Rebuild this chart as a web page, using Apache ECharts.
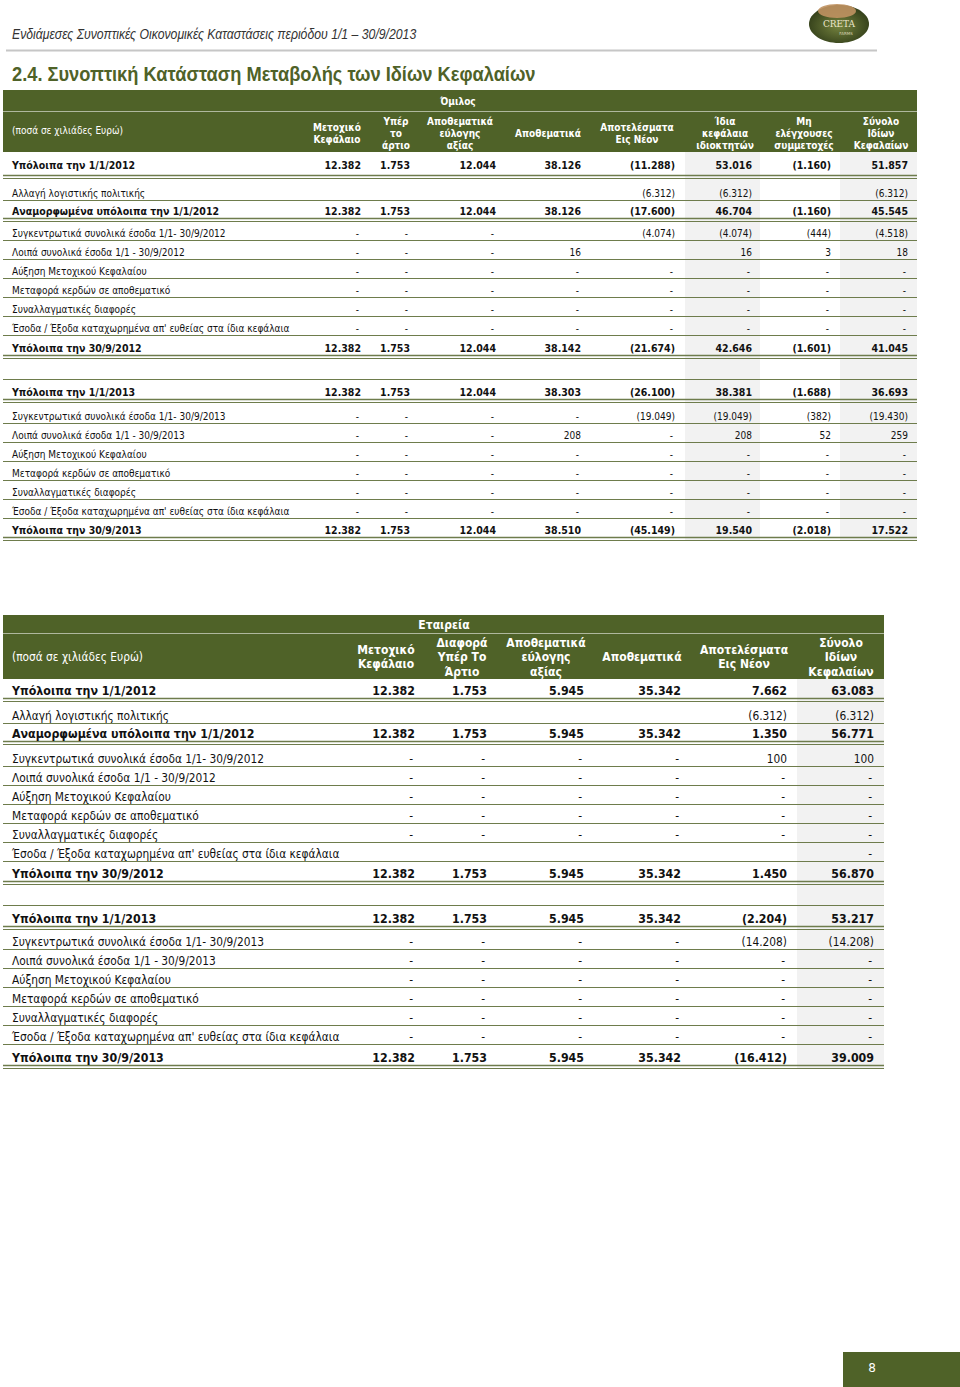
<!DOCTYPE html>
<html>
<head>
<meta charset="utf-8">
<script src="https://cdn.jsdelivr.net/npm/echarts@6/dist/echarts.min.js"></script>
<style>
  html, body { margin: 0; padding: 0; background: #fff; }
  #page { width: 960px; height: 1387px; }
</style>
</head>
<body>
<div id="page"></div>
<script>
// ---- data ----
const pageHeader = 'Ενδιάμεσες Συνοπτικές Οικονομικές Καταστάσεις περιόδου 1/1 – 30/9/2013'
const sectionTitle = '2.4. Συνοπτική Κατάσταση Μεταβολής των Ιδίων Κεφαλαίων'
const pageNumber = '8'
const unitLabel = '(ποσά σε χιλιάδες Ευρώ)'

const rowLabels = [
  'Υπόλοιπα την 1/1/2012',
  'Αλλαγή λογιστικής πολιτικής',
  'Αναμορφωμένα υπόλοιπα την 1/1/2012',
  'Συγκεντρωτικά συνολικά έσοδα 1/1- 30/9/2012',
  'Λοιπά συνολικά έσοδα 1/1 - 30/9/2012',
  'Αύξηση Μετοχικού Κεφαλαίου',
  'Μεταφορά κερδών σε αποθεματικό',
  'Συναλλαγματικές διαφορές',
  'Έσοδα / Έξοδα καταχωρημένα απ\' ευθείας στα ίδια κεφάλαια',
  'Υπόλοιπα την 30/9/2012',
  '',
  'Υπόλοιπα την 1/1/2013',
  'Συγκεντρωτικά συνολικά έσοδα 1/1- 30/9/2013',
  'Λοιπά συνολικά έσοδα 1/1 - 30/9/2013',
  'Αύξηση Μετοχικού Κεφαλαίου',
  'Μεταφορά κερδών σε αποθεματικό',
  'Συναλλαγματικές διαφορές',
  'Έσοδα / Έξοδα καταχωρημένα απ\' ευθείας στα ίδια κεφάλαια',
  'Υπόλοιπα την 30/9/2013'
]

// Όμιλος (group)
const groupTitle = 'Όμιλος'
const groupColumns = ['Μετοχικό\nΚεφάλαιο', 'Υπέρ\nτο\nάρτιο', 'Αποθεματικά\nεύλογης\nαξίας', 'Αποθεματικά',
  'Αποτελέσματα\nΕις Νέον', 'Ίδια\nκεφάλαια\nιδιοκτητών', 'Μη\nελέγχουσες\nσυμμετοχές', 'Σύνολο\nΙδίων\nΚεφαλαίων']
// null = empty cell, 0 = "-"
const groupValues = [
  [12382, 1753, 12044, 38126, -11288, 53016, -1160, 51857],
  [null, null, null, null, -6312, -6312, null, -6312],
  [12382, 1753, 12044, 38126, -17600, 46704, -1160, 45545],
  [0, 0, 0, null, -4074, -4074, -444, -4518],
  [0, 0, 0, 16, null, 16, 3, 18],
  [0, 0, 0, 0, 0, 0, 0, 0],
  [0, 0, 0, 0, 0, 0, 0, 0],
  [0, 0, 0, 0, 0, 0, 0, 0],
  [0, 0, 0, 0, 0, 0, 0, 0],
  [12382, 1753, 12044, 38142, -21674, 42646, -1601, 41045],
  null,
  [12382, 1753, 12044, 38303, -26100, 38381, -1688, 36693],
  [0, 0, 0, 0, -19049, -19049, -382, -19430],
  [0, 0, 0, 208, 0, 208, 52, 259],
  [0, 0, 0, 0, 0, 0, 0, 0],
  [0, 0, 0, 0, 0, 0, 0, 0],
  [0, 0, 0, 0, 0, 0, 0, 0],
  [0, 0, 0, 0, 0, 0, 0, 0],
  [12382, 1753, 12044, 38510, -45149, 19540, -2018, 17522]
]

// Εταιρεία (company)
const companyTitle = 'Εταιρεία'
const companyColumns = ['Μετοχικό\nΚεφάλαιο', 'Διαφορά\nΥπέρ Το\nΆρτιο', 'Αποθεματικά\nεύλογης\nαξίας', 'Αποθεματικά',
  'Αποτελέσματα\nΕις Νέον', 'Σύνολο\nΙδίων\nΚεφαλαίων']
const companyValues = [
  [12382, 1753, 5945, 35342, 7662, 63083],
  [null, null, null, null, -6312, -6312],
  [12382, 1753, 5945, 35342, 1350, 56771],
  [0, 0, 0, 0, 100, 100],
  [0, 0, 0, 0, 0, 0],
  [0, 0, 0, 0, 0, 0],
  [0, 0, 0, 0, 0, 0],
  [0, 0, 0, 0, 0, 0],
  [null, null, null, null, null, 0],
  [12382, 1753, 5945, 35342, 1450, 56870],
  null,
  [12382, 1753, 5945, 35342, -2204, 53217],
  [0, 0, 0, 0, -14208, -14208],
  [0, 0, 0, 0, 0, 0],
  [0, 0, 0, 0, 0, 0],
  [0, 0, 0, 0, 0, 0],
  [0, 0, 0, 0, 0, 0],
  [0, 0, 0, 0, 0, 0],
  [12382, 1753, 5945, 35342, -16412, 39009]
]

// ---- layout / style ----
const GREEN = '#4f6228'
const RULE = '#6e7c4c'
const SHADE = '#f2f2f2'
const FONT = '"DejaVu Sans Condensed", "DejaVu Sans", sans-serif'
const SANS = '"Liberation Sans", Arial, sans-serif'
const BOLD_ROWS = [0, 2, 9, 11, 18]

const groupLayout = {
  top: 90, split: 111, headBottom: 152, left: 3, right: 917,
  titleX: 458, unitY: 130, headY: 133, headLH: 12, headSize: 10,
  centers: [337, 396, 460, 548, 637, 725, 804, 881],
  rights: [361, 410, 496, 581, 675, 752, 831, 908],
  shade: [[685, 760], [840, 917]],
  heights: [26, 22, 21, 19, 19, 19, 19, 19, 19, 23, 21, 23, 21, 19, 19, 19, 19, 19, 22],
  reg: 10, bold: 10.5
}
const companyLayout = {
  top: 615, split: 633, headBottom: 679, left: 3, right: 884,
  titleX: 444, unitY: 657, headY: 657, headLH: 14.5, headSize: 12,
  centers: [386, 462, 546, 642, 744, 841],
  rights: [415, 487, 584, 681, 787, 874],
  shade: [[797, 884]],
  heights: [22, 22, 21, 22, 19, 19, 19, 19, 19, 23, 21, 24, 20, 19, 19, 19, 19, 19, 24],
  reg: 11.8, bold: 12.3
}

function fmt(v) {
  if (v === null || v === undefined) return ''
  if (v === 0) return '-'
  const s = Math.abs(v).toString().replace(/\B(?=(\d{3})+(?!\d))/g, '.')
  return v < 0 ? '(' + s + ')' : s
}

function txt(text, x, y, font, fill, align, extra) {
  return {
    type: 'text', silent: true,
    style: Object.assign({ text: text, x: x, y: y, font: font, fill: fill, align: align || 'left', verticalAlign: 'middle' }, extra || {})
  }
}
// text squeezed horizontally (condensed look of the original fonts)
function narrowTxt(text, x, y, font, fill, sx) {
  return {
    type: 'text', silent: true, x: x, y: y, scaleX: sx,
    style: { text: text, x: 0, y: 0, font: font, fill: fill, align: 'left', verticalAlign: 'middle' }
  }
}
function line(x1, y, x2, stroke, w) {
  return { type: 'line', silent: true, shape: { x1: x1, y1: y, x2: x2, y2: y }, style: { stroke: stroke, lineWidth: w } }
}
function rect(x, y, w, h, fill) {
  return { type: 'rect', silent: true, shape: { x: x, y: y, width: w, height: h }, style: { fill: fill } }
}

function buildTable(L, title, columns, values) {
  const els = []
  const total = L.heights.reduce((a, b) => a + b, 0)
  // header band
  els.push(rect(L.left, L.top, L.right - L.left, L.headBottom - L.top, GREEN))
  els.push(line(L.left, L.split + 0.5, L.right, 'rgba(255,255,255,0.55)', 1))
  els.push(txt(title, L.titleX, (L.top + L.split) / 2 + 1, 'bold ' + L.headSize + 'px ' + FONT, '#fff', 'center'))
  els.push(txt(unitLabel, 12, L.unitY, L.reg + 'px ' + FONT, '#fff', 'left'))
  columns.forEach((c, i) => {
    els.push(txt(c, L.centers[i], L.headY, 'bold ' + L.headSize + 'px ' + FONT, '#fff', 'center', { lineHeight: L.headLH }))
  })
  // shaded columns
  L.shade.forEach(s => els.push(rect(s[0], L.headBottom, s[1] - s[0], total, SHADE)))
  // rows
  let y = L.headBottom
  rowLabels.forEach((label, r) => {
    const h = L.heights[r]
    y += h
    const bold = BOLD_ROWS.indexOf(r) >= 0
    if (bold) {
      els.push(line(L.left, y - 2.5, L.right, RULE, 1.5))
      els.push(line(L.left, y + 0.5, L.right, RULE, 1))
    } else {
      els.push(line(L.left, y + 0.5, L.right, RULE, 1.2))
    }
    if (!label) return
    const ty = y - (bold ? 10 : 7) - (h > 24 ? 3 : 0)
    const font = (bold ? 'bold ' + L.bold : L.reg) + 'px ' + FONT
    els.push(txt(label, 12, ty, font, '#111', 'left'))
    const vals = values[r] || []
    vals.forEach((v, c) => {
      const s = fmt(v)
      if (!s) return
      els.push(txt(s, L.rights[c] - (s === '-' ? 2 : 0), ty, font, '#111', 'right'))
    })
  })
  return els
}

function logo() {
  return [
    { type: 'ellipse', silent: true, shape: { cx: 839, cy: 24, rx: 30, ry: 19 },
      style: { fill: new echarts.graphic.RadialGradient(0.5, 0.55, 0.6, [
        { offset: 0, color: '#76843f' }, { offset: 1, color: '#2c3816' }]) } },
    { type: 'ellipse', silent: true, shape: { cx: 837, cy: 11, rx: 19, ry: 7 },
      style: { fill: '#c09262', opacity: 0.9 } },
    txt('CRETA', 839, 24, '9px "DejaVu Serif", serif', '#ece6cc', 'center'),
    txt('FARMS', 846, 33, '4px "DejaVu Sans", sans-serif', '#d8d2b0', 'center')
  ]
}

const graphics = []
  .concat(logo())
  .concat([
    narrowTxt(pageHeader, 12, 34, 'italic 14px ' + SANS, '#333', 0.875),
    line(6, 50.5, 877, '#c6c6c6', 2),
    narrowTxt(sectionTitle, 12, 74, 'bold 21px ' + SANS, GREEN, 0.87)
  ])
  .concat(buildTable(groupLayout, groupTitle, groupColumns, groupValues))
  .concat(buildTable(companyLayout, companyTitle, companyColumns, companyValues))
  .concat([
    rect(843, 1352, 117, 35, GREEN),
    txt(pageNumber, 872, 1368, '12px "DejaVu Sans", sans-serif', '#fff', 'center')
  ])

const chart = echarts.init(document.getElementById('page'), null, { renderer: 'svg' })
chart.setOption({
  animation: false,
  graphic: { elements: graphics }
})
</script>
</body>
</html>
